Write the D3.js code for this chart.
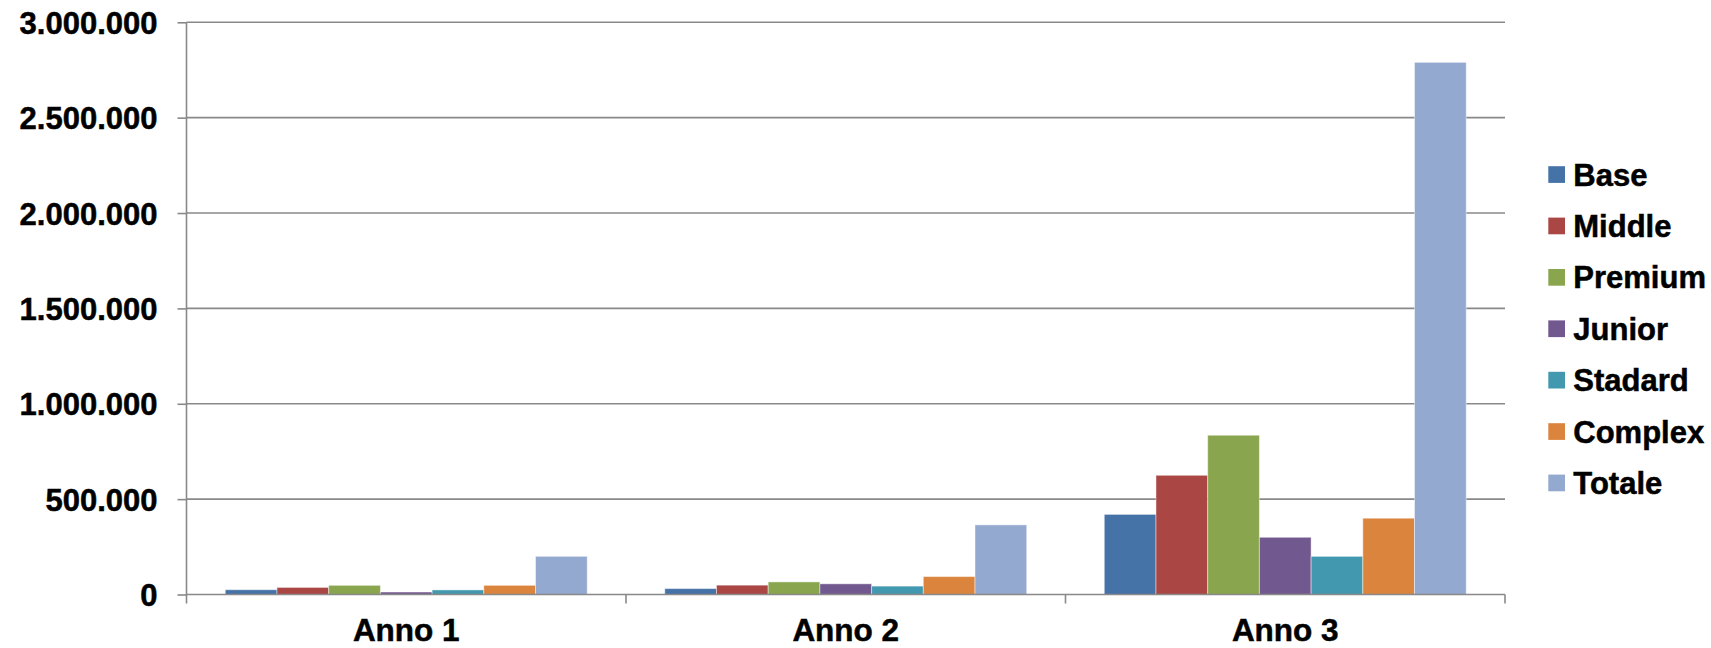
<!DOCTYPE html>
<html>
<head>
<meta charset="utf-8">
<script src="https://cdn.jsdelivr.net/npm/d3@7"></script>
<style>
  html, body { margin: 0; padding: 0; background: #fff; }
  svg { display: block; }
  text { font-family: "Liberation Sans", Arial, sans-serif; font-weight: bold; fill: #000; stroke: #000; stroke-width: 0.5px; }
</style>
</head>
<body>
<svg id="chart" width="1711" height="648"></svg>
<script>
// Categories (years) and the product lines shown for each
const categories = ["Anno 1", "Anno 2", "Anno 3"];
const seriesNames = ["Base", "Middle", "Premium", "Junior", "Stadard", "Complex", "Totale"];
const seriesColors = ["#4572A7", "#AA4643", "#89A54E", "#71588F", "#4198AF", "#DB843D", "#93A9CF"];

// Values per series, one entry per year
const base    = [25000, 31000, 420000];
const middle  = [37000, 49000, 625000];
const premium = [48000, 66000, 835000];
const junior  = [13000, 56000, 300000];
const stadard = [24000, 44000, 200000];
const complex = [48000, 94000, 400000];
const totale  = [200000, 365000, 2790000];

const yTicks = [0, 500000, 1000000, 1500000, 2000000, 2500000, 3000000];
const yMax = 3000000;

const seriesValues = [base, middle, premium, junior, stadard, complex, totale];

const svg = d3.select("#chart");
const plotLeft = 186.5, plotRight = 1505, plotTop = 22.3, plotBottom = 594.5;
const gridColor = "#898989";

const locale = d3.formatLocale({ decimal: ",", thousands: ".", grouping: [3], currency: ["", "€"] });
const fmt = locale.format(",d");

const x0 = d3.scaleBand().domain(categories).range([plotLeft, plotRight]).paddingInner(0).paddingOuter(0);
// Gap between groups is 150% of one bar width
const gapRatio = 1.5;
const barW = x0.bandwidth() / (seriesNames.length + gapRatio);
const x1 = d3.scaleBand().domain(seriesNames)
  .range([barW * gapRatio / 2, x0.bandwidth() - barW * gapRatio / 2])
  .paddingInner(0).paddingOuter(0);
const y = d3.scaleLinear().domain([0, yMax]).range([plotBottom, plotTop]);
const color = d3.scaleOrdinal().domain(seriesNames).range(seriesColors);

// Horizontal gridlines
svg.append("g").selectAll("line")
  .data(yTicks.filter(d => d > 0))
  .join("line")
  .attr("x1", plotLeft).attr("x2", plotRight)
  .attr("y1", d => y(d)).attr("y2", d => y(d))
  .attr("stroke", gridColor).attr("stroke-width", 1.6);

// Bars
const rows = [];
categories.forEach((c, ci) => {
  seriesNames.forEach((s, si) => rows.push({ cat: c, series: s, value: seriesValues[si][ci] }));
});
svg.append("g").selectAll("rect")
  .data(rows)
  .join("rect")
  .attr("x", d => x0(d.cat) + x1(d.series))
  .attr("y", d => y(d.value))
  .attr("width", x1.bandwidth())
  .attr("height", d => y(0) - y(d.value))
  .attr("fill", d => color(d.series))
  .attr("stroke", "#ffffff").attr("stroke-opacity", 0.45).attr("stroke-width", 1);

// Y axis
const yAxis = svg.append("g")
  .attr("transform", `translate(${plotLeft},0)`)
  .call(d3.axisLeft(y).tickValues(yTicks).tickFormat(fmt).tickSize(9).tickPadding(20));
yAxis.select(".domain").remove();
yAxis.selectAll(".tick line").attr("stroke", gridColor).attr("stroke-width", 1.6);
yAxis.selectAll(".tick text")
  .attr("font-size", 31).attr("font-family", "Liberation Sans, Arial, sans-serif")
  .attr("font-weight", "bold").attr("fill", "#000").attr("dy", "0.36em");
svg.append("line")
  .attr("x1", plotLeft).attr("x2", plotLeft).attr("y1", plotTop).attr("y2", plotBottom + 9)
  .attr("stroke", gridColor).attr("stroke-width", 1.6);

// X axis
const xAxis = svg.append("g")
  .attr("transform", `translate(0,${plotBottom})`)
  .call(d3.axisBottom(x0).tickSize(0).tickPadding(24));
xAxis.select(".domain").remove();
xAxis.selectAll(".tick text")
  .attr("font-size", 31.5).attr("font-family", "Liberation Sans, Arial, sans-serif")
  .attr("font-weight", "bold").attr("fill", "#000").attr("dy", "0.71em");
svg.append("line")
  .attr("x1", plotLeft).attr("x2", plotRight).attr("y1", plotBottom).attr("y2", plotBottom)
  .attr("stroke", gridColor).attr("stroke-width", 1.6);
// Category boundary ticks
const boundaries = categories.map(c => x0(c)).concat([x0(categories[categories.length - 1]) + x0.bandwidth()]);
svg.append("g").selectAll("line")
  .data(boundaries.slice(1))
  .join("line")
  .attr("x1", d => d).attr("x2", d => d)
  .attr("y1", plotBottom).attr("y2", plotBottom + 9)
  .attr("stroke", gridColor).attr("stroke-width", 1.6);

// Legend
const legend = svg.append("g").attr("transform", "translate(1548.3,174.5)");
const item = legend.selectAll("g")
  .data(seriesNames)
  .join("g")
  .attr("transform", (d, i) => `translate(0,${i * 51.4})`);
item.append("rect")
  .attr("x", 0).attr("y", -8.3).attr("width", 16.7).attr("height", 16.7)
  .attr("fill", d => color(d));
item.append("text")
  .attr("x", 25).attr("y", 0).attr("dy", "0.36em")
  .attr("font-size", 31)
  .text(d => d);
</script>
</body>
</html>
